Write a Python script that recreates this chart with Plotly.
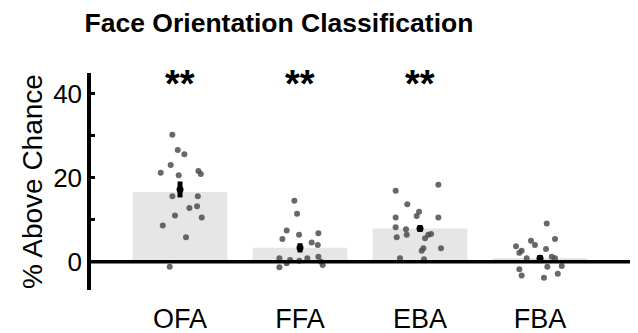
import plotly.graph_objects as go

categories = ["OFA", "FFA", "EBA", "FBA"]
bar_means = [16.6, 3.3, 7.9, 0.9]
err_means = [17.2, 3.3, 7.9, 0.8]
err_sem = [1.9, 1.1, 0.8, 0.8]
stars = ["**", "**", "**", ""]
star_level = 42.4

ofa_vals = [30.2, 26.6, 25.6, 23.0, 21.2, 21.6, 20.9, 20.6, 15.6, 15.6, 12.8, 13.2, 11.0, 10.5, 8.6, 5.8, -1.2]
ofa_jit = [-0.064, -0.019, 0.036, -0.078, -0.161, 0.153, 0.173, -0.011, -0.064, 0.148, 0.078, 0.142, -0.042, 0.181, -0.144, 0.05, -0.086]
ffa_vals = [14.5, 11.4, 7.4, 6.4, 6.8, 5.4, 4.6, 4.0, 0.8, 0.4, 0.2, 0.8, 1.2, 0.0, -1.3, -0.4, -0.8]
ffa_jit = [-0.047, -0.025, -0.111, -0.008, 0.153, -0.147, 0.097, 0.148, -0.172, -0.083, -0.006, 0.061, 0.153, 0.175, -0.172, -0.111, 0.189]
eba_vals = [16.9, 18.3, 13.7, 10.9, 11.9, 10.5, 10.5, 8.2, 7.7, 5.8, 6.4, 5.6, 6.4, 6.6, 3.2, 2.6, 3.2, 0.8, 0.6]
eba_jit = [-0.203, 0.153, -0.106, -0.028, -0.008, -0.203, 0.153, -0.203, -0.117, -0.194, -0.111, 0.042, 0.069, 0.092, 0.028, 0.014, 0.175, -0.167, 0.033]
fba_vals = [9.1, 5.4, 5.0, 4.0, 3.7, 2.6, 2.1, 3.0, 0.8, 1.2, 0.8, -1.2, -1.0, -1.8, -3.3, -2.9, -3.8]
fba_jit = [0.056, 0.125, -0.075, -0.042, -0.2, -0.153, -0.172, 0.05, -0.111, 0.098, 0.125, 0.061, 0.181, -0.172, -0.153, 0.148, 0.033]

y_ticks = [0, 20, 40]
y_minor = [10, 30]

group_vals = [ofa_vals, ffa_vals, eba_vals, fba_vals]
group_jit = [ofa_jit, ffa_jit, eba_jit, fba_jit]
xpos = list(range(len(categories)))

FONT = "Liberation Sans, Arial, Helvetica, sans-serif"

# the page body has an 8px margin, so the figure is drawn 8px smaller
W, H = 630, 325

fig = go.Figure()
fig.add_trace(go.Bar(x=xpos, y=bar_means, width=0.79, marker=dict(color="#e6e6e6", line=dict(width=0)),
                     showlegend=False, hoverinfo="skip"))

px, py = [], []
for i, (vals, jit) in enumerate(zip(group_vals, group_jit)):
    for v, j in zip(vals, jit):
        px.append(i + j)
        py.append(v)
fig.add_trace(go.Scatter(x=px, y=py, mode="markers",
                         marker=dict(size=6, color="#4d4d4d", opacity=0.85, line=dict(width=0)),
                         showlegend=False, hoverinfo="skip"))

fig.add_trace(go.Scatter(x=xpos, y=err_means, mode="markers",
                         marker=dict(size=7, color="black"),
                         error_y=dict(type="data", array=err_sem, thickness=5, width=0, color="black"),
                         showlegend=False, hoverinfo="skip"))

for i, s in enumerate(stars):
    if s:
        fig.add_annotation(x=i, y=star_level, text=s, showarrow=False,
                           font=dict(family=FONT, size=38, color="black", weight="bold"),
                           yanchor="middle", yshift=0)

fig.add_shape(type="line", xref="paper", yref="y", x0=0, x1=1, y0=0, y1=0,
              line=dict(color="black", width=3.5), layer="above")

fig.update_layout(
    width=W, height=H,
    margin=dict(l=83, r=8, t=65, b=43, autoexpand=False),
    paper_bgcolor="white", plot_bgcolor="white",
    title=dict(text="<b>Face Orientation Classification</b>", x=271/W, xanchor="center",
               y=1 - 14.5/H, yanchor="middle", yref="container",
               font=dict(family=FONT, size=26.5, color="black")),
    font=dict(family=FONT, color="black"),
)
fig.update_xaxes(range=[-0.742, 3.75], tickvals=xpos, ticktext=categories, showline=False,
                 showgrid=False, zeroline=False, ticks="", tickfont=dict(size=27, color="black"),
                 ticklabelstandoff=10, automargin=False)
fig.update_yaxes(range=[-6.74, 44.93], tickvals=y_ticks, showline=True, linewidth=3.5, linecolor="black",
                 showgrid=False, zeroline=False, ticks="inside", ticklen=4, tickwidth=2.5, tickcolor="black",
                 minor=dict(tickvals=y_minor, ticks="inside", ticklen=4, tickwidth=2.5, tickcolor="black"),
                 tickfont=dict(size=26, color="black"), automargin=False,
                 title=dict(text="% Above Chance", font=dict(size=28, color="black"), standoff=3))

fig.write_html("out.html")
